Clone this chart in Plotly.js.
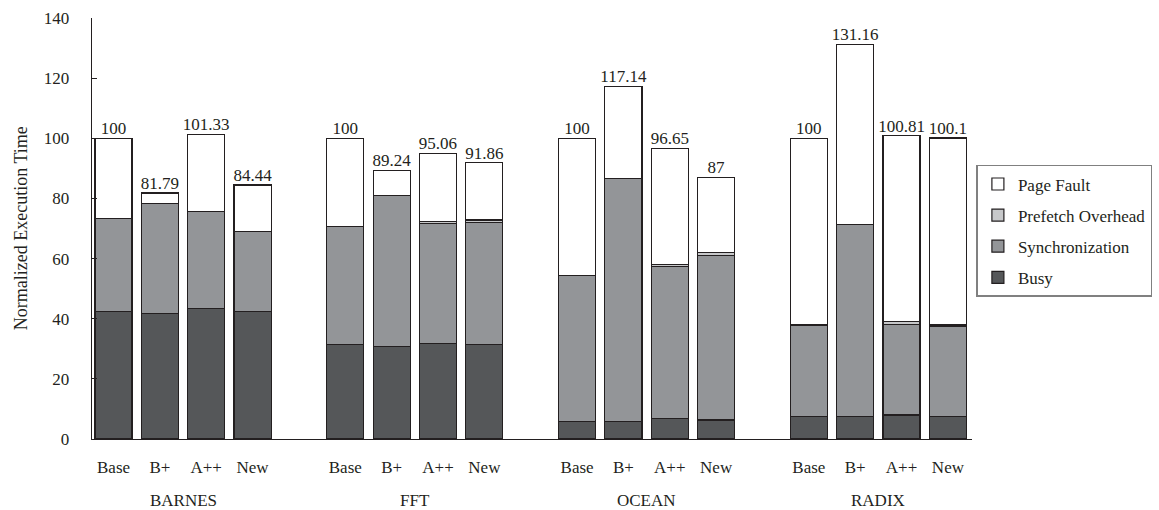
<!DOCTYPE html>
<html>
<head>
<meta charset="utf-8">
<script src="https://cdn.plot.ly/plotly-3.0.1.min.js"></script>
<style>body{margin:0;background:#fff}#chart{width:1159px;height:510px}</style>
</head>
<body>
<div id="chart"></div>
<script>
// ---- data ----
const groups = ["BARNES", "FFT", "OCEAN", "RADIX"];
const configs = ["Base", "B+", "A++", "New"];
const busy = [42.3, 41.8, 43.5, 42.3, 31.3, 30.7, 31.8, 31.3, 5.8, 5.8, 6.9, 6.3, 7.4, 7.4, 8.0, 7.4];
const synchronization = [31.1, 36.6, 32.1, 26.6, 39.3, 50.4, 39.9, 40.8, 48.7, 80.9, 50.4, 54.6, 30.5, 63.8, 30.1, 29.9];
const prefetchOverhead = [0, 0, 0, 0, 0, 0, 0.6, 0.7, 0, 0, 0.8, 1.2, 0, 0, 0.9, 0.6];
const pageFault = [26.6, 3.39, 25.73, 15.54, 29.4, 8.14, 22.76, 19.06, 45.5, 30.44, 38.55, 24.9, 62.1, 59.96, 61.81, 62.2];
const totals = [100, 81.79, 101.33, 84.44, 100, 89.24, 95.06, 91.86, 100, 117.14, 96.65, 87, 100, 131.16, 100.81, 100.1];
const totalLabels = ["100", "81.79", "101.33", "84.44", "100", "89.24", "95.06", "91.86", "100", "117.14", "96.65", "87", "100", "131.16", "100.81", "100.1"];

// ---- positions (one empty slot between groups) ----
const xs = [], tickText = [];
groups.forEach((g, gi) => configs.forEach((c, ci) => { xs.push(gi * (configs.length + 1) + ci); tickText.push(c); }));
const groupCenters = groups.map((g, gi) => gi * (configs.length + 1) + (configs.length - 1) / 2);

const FONT = "Liberation Serif, Times New Roman, serif";
const INK = "#231f20";
const line = {color: INK, width: 1.2};

function barTrace(name, y, color, grp, rank) {
  return {type: "bar", name: name, x: xs, y: y, legendgroup: grp, legendrank: rank,
          marker: {color: color, line: line}, hoverinfo: "y+name"};
}

const traces = [
  barTrace("Busy", busy, "#555759", "a", 4),
  barTrace("Synchronization", synchronization, "#939598", "b", 3),
  barTrace("Prefetch Overhead", prefetchOverhead, "#c7c8ca", "c", 2),
  barTrace("Page Fault", pageFault, "#ffffff", "d", 1),
  {type: "scatter", mode: "text", x: xs, y: totals, text: totalLabels,
   textposition: "top center", showlegend: false, hoverinfo: "skip",
   textfont: {family: FONT, size: 17, color: INK}}
];

const annotations = groups.map((g, gi) => ({
  text: g, x: groupCenters[gi], xref: "x", y: -0.145, yref: "paper",
  showarrow: false, yanchor: "middle", font: {family: FONT, size: 17, color: INK}
}));

const layout = {
  width: 1159, height: 510,
  margin: {l: 92, r: 187, t: 18, b: 71, autoexpand: false},
  paper_bgcolor: "#fff", plot_bgcolor: "#fff",
  barmode: "stack", bargap: 0.2,
  font: {family: FONT, size: 17, color: INK},
  xaxis: {range: [-0.464, 18.52], tickvals: xs, ticktext: tickText, ticks: "",
          showline: true, linecolor: INK, linewidth: 1.3, showgrid: false, zeroline: false,
          ticklabelstandoff: 12, tickfont: {family: FONT, size: 17, color: INK}},
  yaxis: {range: [0, 140], dtick: 20, ticks: "inside", ticklen: 5, tickcolor: INK,
          showline: true, linecolor: INK, linewidth: 1.3, showgrid: false, zeroline: false,
          ticklabelstandoff: 18, tickfont: {family: FONT, size: 17, color: INK}},
  legend: {x: 1.005, xanchor: "left", y: 0.651, yanchor: "top",
           traceorder: "grouped", tracegroupgap: 6,
           bordercolor: "#808080", borderwidth: 1.5, bgcolor: "#fff",
           font: {family: FONT, size: 17, color: INK}},
  annotations: annotations.concat([{
    text: "Normalized Execution Time", textangle: -90, xref: "paper", yref: "paper",
    x: -0.081, y: 0.5, xanchor: "center", yanchor: "middle", showarrow: false,
    font: {family: FONT, size: 18, color: INK}
  }]),
  showlegend: true
};

Plotly.newPlot("chart", traces, layout, {displayModeBar: false, staticPlot: true});
</script>
</body>
</html>
